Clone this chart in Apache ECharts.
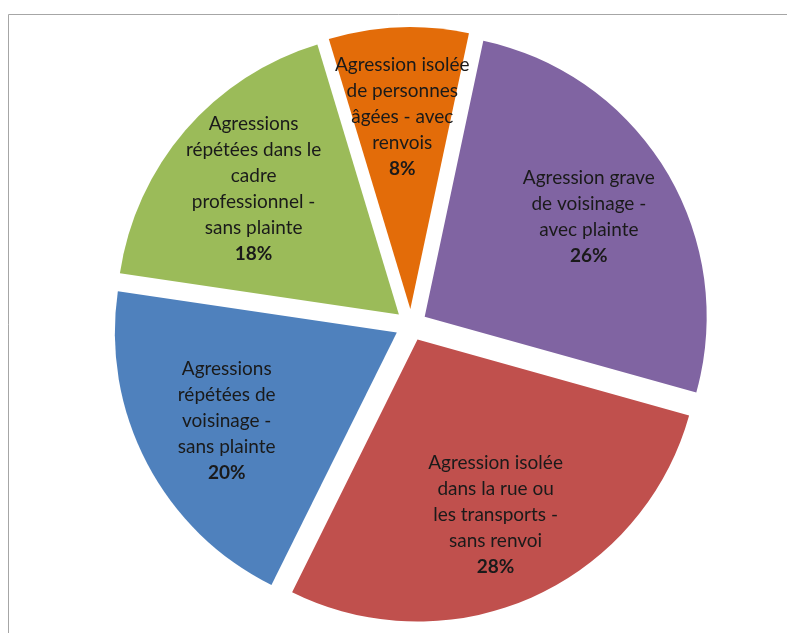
<!DOCTYPE html>
<html>
<head>
<meta charset="utf-8">
<script src="https://cdn.jsdelivr.net/npm/echarts@6/dist/echarts.min.js"></script>
<style>
  html, body { margin: 0; padding: 0; background: #ffffff; }
  #chart { width: 787px; height: 633px; }
</style>
</head>
<body>
<div id="chart"></div>
<script>
// Categories, clockwise from the top of the pie
const categories = [
  'Agression grave\nde voisinage -\navec plainte',
  'Agression isolée\ndans la rue ou\nles transports -\nsans renvoi',
  'Agressions\nrépétées de\nvoisinage -\nsans plainte',
  'Agressions\nrépétées dans le\ncadre\nprofessionnel -\nsans plainte',
  'Agression isolée\nde personnes\nâgées - avec\nrenvois'
];
const shares = [26, 28, 20, 18, 8];
const colors = ['#8064A2', '#C0504D', '#4F81BD', '#9BBB59', '#E36C09'];

const FONT = 'Lato, "Open Sans", sans-serif';
const CENTER = [411, 325];
const R = 282;
const OFFSET = 16;

const chart = echarts.init(document.getElementById('chart'), null, { renderer: 'canvas' });

const sectorData = categories.map((name, i) => ({
  name, value: shares[i], selected: true,
  itemStyle: { color: colors[i] }
}));
const labelData = categories.map((name, i) => ({
  name, value: shares[i], selected: true
}));

const common = {
  type: 'pie',
  center: CENTER,
  startAngle: 78,
  clockwise: true,
  selectedMode: 'multiple',
  selectedOffset: OFFSET,
  avoidLabelOverlap: false,
  animation: false,
  silent: true,
  emphasis: { disabled: true },
  labelLine: { show: false }
};

chart.setOption({
  backgroundColor: '#ffffff',
  graphic: [{
    type: 'rect',
    shape: { x: 8.5, y: 14.5, width: 800, height: 640 },
    style: { fill: 'none', stroke: '#A6A6A6', lineWidth: 1 },
    silent: true
  }],
  series: [
    Object.assign({}, common, {
      name: 'sectors',
      radius: [0, R],
      label: { show: false },
      itemStyle: { borderWidth: 0 },
      data: sectorData
    }),
    // transparent ring used only to place the labels further out along each slice
    Object.assign({}, common, {
      name: 'labels',
      radius: [R * 0.34, R],
      itemStyle: { color: 'rgba(0,0,0,0)', borderWidth: 0 },
      label: {
        show: true,
        position: 'inside',
        formatter: p => p.name + '\n{pct|' + p.value + '%}',
        color: '#1A1A1A',
        fontFamily: FONT,
        fontSize: 19,
        lineHeight: 26,
        align: 'center',
        rich: {
          pct: { fontFamily: FONT, fontSize: 19, fontWeight: 'bold', color: '#1A1A1A', lineHeight: 26 }
        }
      },
      data: labelData
    })
  ]
});
</script>
</body>
</html>
